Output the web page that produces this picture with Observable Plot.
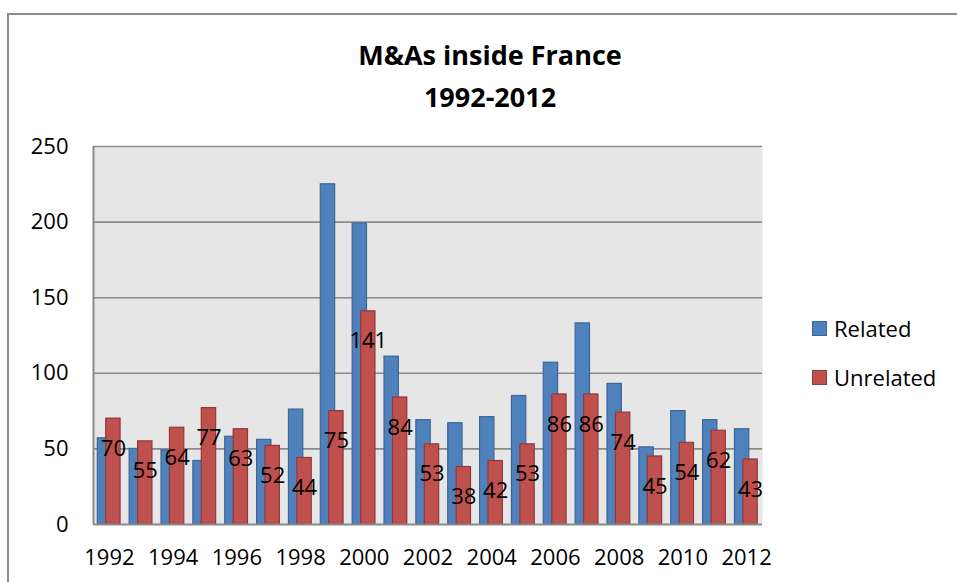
<!DOCTYPE html>
<html>
<head>
<meta charset="utf-8">
<script src="https://cdn.jsdelivr.net/npm/d3@7"></script>
<script src="https://cdn.jsdelivr.net/npm/@observablehq/plot@0.6"></script>
<style>
  html, body { margin: 0; padding: 0; background: #fff; }
  #wrap { position: relative; width: 957px; height: 582px; overflow: hidden; font-family: "Open Sans", "Noto Sans", sans-serif; color: #000; }
  #border { position: absolute; left: 7px; top: 13px; width: 1000px; height: 600px; border: 2px solid #8c8c8c; box-sizing: border-box; pointer-events: none; }
  #title { position: absolute; left: 0; top: 0; width: 957px; height: 120px; }
  #title div { position: absolute; left: 0; width: 980px; text-align: center; font-weight: bold; font-size: 27px; line-height: 1; }
  #chart { position: absolute; left: 0; top: 120px; }
  #legend { position: absolute; left: 812px; top: 313px; font-size: 22px; }
  #legend .item { display: flex; align-items: center; height: 30px; margin-bottom: 19px; }
  #legend .sw { width: 15px; height: 15px; margin-right: 7px; box-sizing: border-box; border: 1px solid; }
</style>
</head>
<body>
<div id="wrap">
  <div id="title"><div style="top:41px">M&amp;As inside France</div><div style="top:83px">1992-2012</div></div>
  <div id="chart"></div>
  <div id="legend"></div>
  <div id="border"></div>
</div>
<script>
const years = [1992,1993,1994,1995,1996,1997,1998,1999,2000,2001,2002,2003,2004,2005,2006,2007,2008,2009,2010,2011,2012];
const related = [57,50,49,42,58,56,76,225,199,111,69,67,71,85,107,133,93,51,75,69,63];
const unrelated = [70,55,64,77,63,52,44,75,141,84,53,38,42,53,86,86,74,45,54,62,43];
const seriesNames = ["Related", "Unrelated"];
const yTicks = [0,50,100,150,200,250];
const xTicks = [1992,1994,1996,1998,2000,2002,2004,2006,2008,2010,2012];
const fills = ["#4f81bd", "#c0504d"];
const strokes = ["#3b6697", "#8e3a38"];

const relData = years.map((y, i) => ({year: y, value: related[i]}));
const unrData = years.map((y, i) => ({year: y, value: unrelated[i]}));

const chart = Plot.plot({
  width: 957,
  height: 462,
  marginTop: 26,
  marginLeft: 93,
  marginRight: 195,
  marginBottom: 58,
  style: {fontFamily: "'Open Sans', 'Noto Sans', sans-serif", fontSize: "22px", color: "#000", background: "transparent"},
  x: {domain: [years[0] - 0.5, years[years.length - 1] + 0.5], ticks: xTicks, tickFormat: d => String(d), tickSize: 0, tickPadding: 25, label: null},
  y: {domain: [0, 250], ticks: yTicks, tickSize: 0, tickPadding: 25, label: null},
  marks: [
    Plot.frame({fill: "#e6e6e6", stroke: null}),
    Plot.ruleY(yTicks.filter(d => d > 0), {stroke: "#8a8a8a", strokeWidth: 1.6}),
    Plot.rectY(relData, {x1: d => d.year - 0.365, x2: d => d.year + 0.085, y1: 0, y2: "value", fill: fills[0], stroke: strokes[0], strokeWidth: 1.2}),
    Plot.rectY(unrData, {x1: d => d.year - 0.10, x2: d => d.year + 0.35, y1: 0, y2: "value", fill: fills[1], stroke: strokes[1], strokeWidth: 1.2}),
    Plot.ruleY([0], {stroke: "#8a8a8a", strokeWidth: 2}),
    Plot.ruleX([years[0] - 0.5], {y1: 0, y2: 250, stroke: "#8a8a8a", strokeWidth: 2}),
    Plot.text(unrData, {x: d => d.year + 0.125, y: "value", text: d => String(d.value), dy: 30, fontSize: 22, fill: "#000"})
  ]
});
document.getElementById("chart").appendChild(chart);

const legend = document.getElementById("legend");
seriesNames.forEach((name, i) => {
  const item = document.createElement("div");
  item.className = "item";
  const sw = document.createElement("span");
  sw.className = "sw";
  sw.style.background = fills[i];
  sw.style.borderColor = strokes[i];
  const label = document.createElement("span");
  label.textContent = name;
  item.appendChild(sw);
  item.appendChild(label);
  legend.appendChild(item);
});
</script>
</body>
</html>
